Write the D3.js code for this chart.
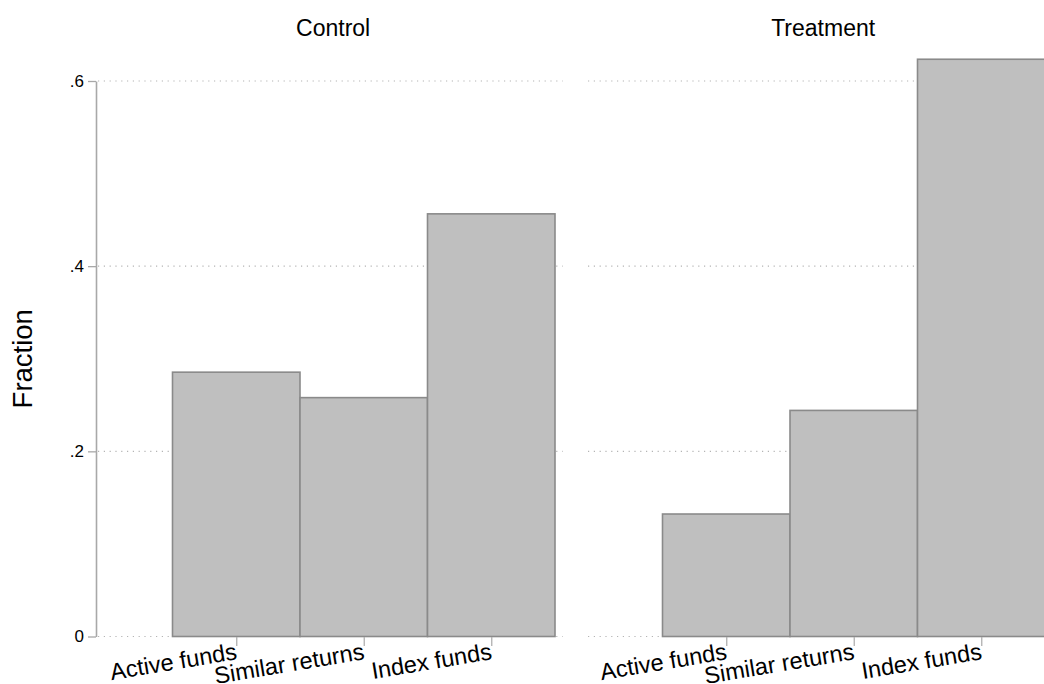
<!DOCTYPE html>
<html>
<head>
<meta charset="utf-8">
<script src="https://cdn.jsdelivr.net/npm/d3@7"></script>
<style>
  html, body { margin: 0; padding: 0; background: #fff; }
  svg { display: block; font-family: "Liberation Sans", Arial, sans-serif; }
</style>
</head>
<body>
<svg id="chart" width="1044" height="684"></svg>
<script>
// ---- data ----
const categories = ["Active funds", "Similar returns", "Index funds"];
const categoryValues = [1, 2, 3];
const groups = ["Control", "Treatment"];
const controlValues = [0.2855, 0.258, 0.4565];
const treatmentValues = [0.1323, 0.2442, 0.6235];
const yTicks = [0, 0.2, 0.4, 0.6];
const yTickLabels = ["0", ".2", ".4", ".6"];
const yTitle = "Fraction";

const seriesByGroup = [controlValues, treatmentValues];

// ---- layout ----
const svg = d3.select("#chart");
const plotTop = 81, plotBottom = 636.5;
const unit = 127.5;
const xDomain = [-0.1, 3.56];
const panelLefts = [96, 586];

const y = d3.scaleLinear().domain([0, 0.6]).range([plotBottom, plotTop]);

// y title
svg.append("text")
  .attr("transform", `translate(32,${(plotTop + plotBottom) / 2}) rotate(-90)`)
  .attr("text-anchor", "middle")
  .attr("font-size", 27.5)
  .attr("fill", "#000")
  .text(yTitle);

groups.forEach((g, gi) => {
  const left = panelLefts[gi];
  const right = left + (xDomain[1] - xDomain[0]) * unit;
  const x = d3.scaleLinear().domain(xDomain).range([left, right]);
  const panel = svg.append("g");

  // gridlines (dotted)
  panel.selectAll("line.grid").data(yTicks).enter().append("line")
    .attr("class", "grid")
    .attr("x1", left + 2).attr("x2", right)
    .attr("y1", d => y(d)).attr("y2", d => y(d))
    .attr("stroke", "#b4b4b4")
    .attr("stroke-width", 1.2)
    .attr("stroke-dasharray", "1.2,4.6");

  // bars
  const vals = seriesByGroup[gi];
  panel.selectAll("rect.bar").data(categoryValues).enter().append("rect")
    .attr("class", "bar")
    .attr("x", d => x(d - 0.5))
    .attr("width", d => x(d + 0.5) - x(d - 0.5))
    .attr("y", (d, i) => y(vals[i]))
    .attr("height", (d, i) => y(0) - y(vals[i]))
    .attr("fill", "#bfbfbf")
    .attr("stroke", "#8a8a8a")
    .attr("stroke-width", 1.6);

  // x axis (ticks only, no domain line)
  const xAxis = d3.axisBottom(x)
    .tickValues(categoryValues)
    .tickSize(9)
    .tickSizeOuter(0)
    .tickFormat((d, i) => categories[i]);
  const gx = panel.append("g")
    .attr("transform", `translate(0,${plotBottom + 0.5})`)
    .call(xAxis);
  gx.select(".domain").remove();
  gx.selectAll(".tick line").attr("stroke", "#b0b0b0").attr("stroke-width", 1.3);
  gx.selectAll(".tick text")
    .attr("font-size", 23.5)
    .attr("fill", "#000")
    .attr("text-anchor", "end")
    .attr("y", 0).attr("dy", 0)
    .attr("transform", "translate(1,22) rotate(-9.5)");

  // title
  svg.append("text")
    .attr("x", x(1.76))
    .attr("y", 36)
    .attr("text-anchor", "middle")
    .attr("font-size", 23)
    .attr("fill", "#000")
    .text(g);

  // y axis only on first panel
  if (gi === 0) {
    const yAxis = d3.axisLeft(y)
      .tickValues(yTicks)
      .tickSize(8)
      .tickSizeOuter(0)
      .tickFormat((d, i) => yTickLabels[i]);
    const gy = svg.append("g")
      .attr("transform", `translate(${left},0)`)
      .call(yAxis);
    gy.select(".domain").attr("stroke", "#a8a8a8").attr("stroke-width", 1.6);
    gy.selectAll(".tick line").attr("stroke", "#a8a8a8").attr("stroke-width", 1.3);
    gy.selectAll(".tick text").attr("font-size", 17).attr("fill", "#000")
      .attr("x", -12).attr("font-family", "Liberation Sans, Arial, sans-serif");
  }
});
</script>
</body>
</html>
